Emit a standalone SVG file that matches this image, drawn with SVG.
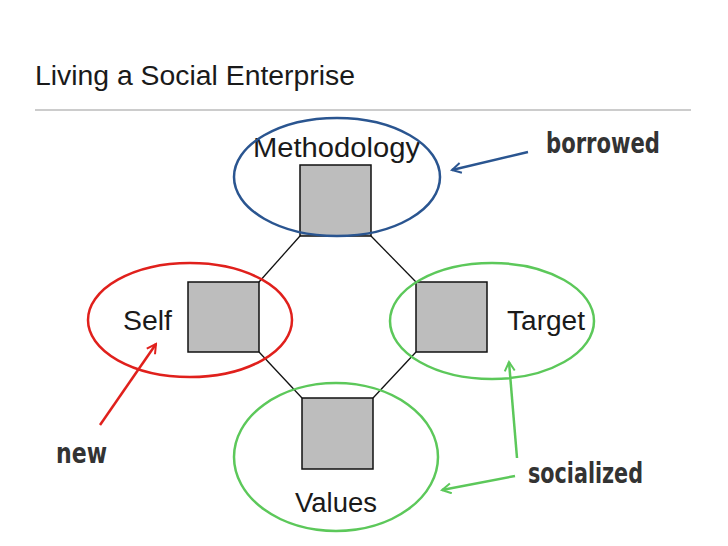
<svg xmlns="http://www.w3.org/2000/svg" width="728" height="546" viewBox="0 0 728 546">
<defs>
<style>
.lbl{font-family:"Liberation Sans",Arial,sans-serif;font-size:27px;fill:#1a1a1a}
.hand{font-family:"DejaVu Sans Condensed","DejaVu Sans",sans-serif;font-weight:bold;font-size:29px;fill:#333}
.box{fill:#bdbdbd;stroke:#111;stroke-width:1.5}
.conn{stroke:#111;stroke-width:1.3;fill:none}
.ell{fill:none;stroke-width:2.5}
</style>
<marker id="ab" viewBox="0 0 12 12" refX="10" refY="6" markerWidth="12" markerHeight="12" markerUnits="userSpaceOnUse" orient="auto"><path d="M1,1 L10,6 L1,11" fill="none" stroke="#2a5590" stroke-width="2"/></marker>
<marker id="ar" viewBox="0 0 12 12" refX="10" refY="6" markerWidth="12" markerHeight="12" markerUnits="userSpaceOnUse" orient="auto"><path d="M1,1 L10,6 L1,11" fill="none" stroke="#e0201c" stroke-width="2"/></marker>
<marker id="ag" viewBox="0 0 12 12" refX="10" refY="6" markerWidth="12" markerHeight="12" markerUnits="userSpaceOnUse" orient="auto"><path d="M1,1 L10,6 L1,11" fill="none" stroke="#5cc85a" stroke-width="2"/></marker>
</defs>
<rect width="728" height="546" fill="#fff"/>
<text x="35" y="85" class="lbl" textLength="320" lengthAdjust="spacingAndGlyphs">Living a Social Enterprise</text>
<line x1="35" y1="110" x2="691" y2="110" stroke="#999" stroke-width="1"/>
<g id="connectors">
<line class="conn" x1="300" y1="236" x2="259" y2="282"/>
<line class="conn" x1="371" y1="236" x2="416" y2="282"/>
<line class="conn" x1="259" y1="352" x2="302" y2="398"/>
<line class="conn" x1="416" y1="352" x2="373" y2="398"/>
</g>
<g id="methodology">
<rect class="box" x="300" y="165" width="71" height="71"/>
<text class="lbl" x="253" y="157" textLength="167" lengthAdjust="spacingAndGlyphs">Methodology</text>
<ellipse class="ell" cx="337" cy="177" rx="103" ry="59" stroke="#2a5590"/>
</g>
<g id="self">
<rect class="box" x="188" y="282" width="71" height="70"/>
<text class="lbl" x="123" y="330" textLength="49" lengthAdjust="spacingAndGlyphs">Self</text>
<ellipse class="ell" cx="190" cy="320" rx="102" ry="57" stroke="#e0201c"/>
</g>
<g id="target">
<rect class="box" x="416" y="282" width="71" height="70"/>
<text class="lbl" x="507" y="330" textLength="78" lengthAdjust="spacingAndGlyphs">Target</text>
<ellipse class="ell" cx="492" cy="321" rx="102" ry="58" stroke="#5cc85a"/>
</g>
<g id="values">
<rect class="box" x="302" y="398" width="71" height="71"/>
<text class="lbl" x="295" y="512" textLength="82" lengthAdjust="spacingAndGlyphs">Values</text>
<ellipse class="ell" cx="336" cy="457" rx="102" ry="74" stroke="#5cc85a"/>
</g>
<g id="annotations">
<text class="hand" x="546" y="153" textLength="114" lengthAdjust="spacingAndGlyphs">borrowed</text>
<line x1="528" y1="152" x2="452" y2="170" stroke="#2a5590" stroke-width="2.5" marker-end="url(#ab)"/>
<text class="hand" x="56" y="463" textLength="51" lengthAdjust="spacingAndGlyphs">new</text>
<line x1="100" y1="425" x2="156" y2="344" stroke="#e0201c" stroke-width="2.5" marker-end="url(#ar)"/>
<text class="hand" x="528" y="483" textLength="115" lengthAdjust="spacingAndGlyphs">socialized</text>
<line x1="517" y1="458" x2="509" y2="362" stroke="#5cc85a" stroke-width="2.5" marker-end="url(#ag)"/>
<line x1="515" y1="476" x2="442" y2="490" stroke="#5cc85a" stroke-width="2.5" marker-end="url(#ag)"/>
</g>
</svg>
